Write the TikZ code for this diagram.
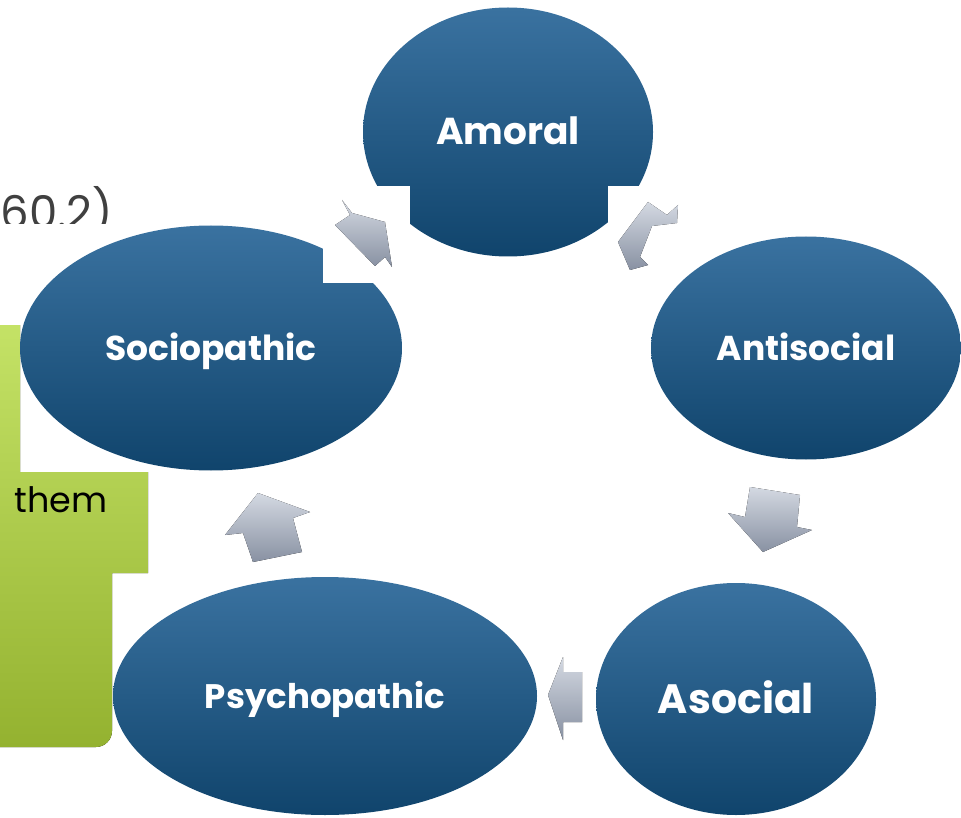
\documentclass[tikz,border=0pt]{standalone}
\usepackage{fontspec}
\setmainfont{Poppins}
\usetikzlibrary{shapes.geometric}
\definecolor{blueTop}{RGB}{58,114,160}
\definecolor{blueBottom}{RGB}{16,68,108}
\definecolor{greyTop}{RGB}{212,217,226}
\definecolor{greyBottom}{RGB}{136,145,162}
\definecolor{greenTop}{RGB}{196,226,102}
\definecolor{greenBottom}{RGB}{148,178,48}
\definecolor{noteGrey}{RGB}{64,64,64}

\begin{document}
\begin{tikzpicture}[x=1pt, y=-1pt,
		bubble/.style={ellipse, inner sep=0pt, top color=blueTop, bottom color=blueBottom,
			text=white, font=\fontsize{34.5}{40}\selectfont\bfseries, text height=25pt, text depth=0pt},
		cycleArrow/.style={top color=greyTop, bottom color=greyBottom},
		mask/.style={fill=white}]

	\def\W{961};
	\def\H{818};

	\newcommand{\blockArrow}[1]
	{
		\fill [cycleArrow] #1 -- cycle
	}

	\useasboundingbox (0,0) rectangle (\W,\H);

	\begin{scope}
		\fill [top color=greenTop, bottom color=greenBottom] (0,325) -- (20,325) -- (20,472) -- (148,472) -- (148,573) -- (112,573) [rounded corners=16pt] -- (112,747) [sharp corners] -- (0,747) -- cycle;
		\node [anchor=base west, font=\fontsize{35}{40}\selectfont] (them) at (11,512) {them};
	\end{scope}

	\begin{scope}
		\clip (0,0) rectangle (130,224);
		\node [anchor=base west, text=noteGrey, font=\fontsize{45}{48}\selectfont] (note) at (-3,229) {60.2)};
	\end{scope}

	\node [bubble, minimum width=290pt, minimum height=249pt, font=\fontsize{37.5}{40}\selectfont\bfseries] (amoral) at (508,132) {Amoral};
	\node [bubble, minimum width=382pt, minimum height=245pt] (socio) at (211,348) {Sociopathic};
	\node [bubble, minimum width=310pt, minimum height=223pt] (anti) at (806,348) {Antisocial};
	\node [bubble, minimum width=280pt, minimum height=232pt, font=\fontsize{41}{44}\selectfont\bfseries, text height=29pt] (asocial) at (736,699) {Asocial};
	\node [bubble, minimum width=424pt, minimum height=238pt, font=\fontsize{34}{40}\selectfont\bfseries] (psycho) at (325,696) {Psychopathic};

	\begin{scope}
		\fill [mask] (323,186) rectangle (410,283);
		\fill [mask] (608,186) rectangle (662,235);
	\end{scope}

	\blockArrow{(342,200) -- (352,213) -- (385,222) -- (392,267) -- (385,257) -- (375,266) -- (335,225) -- (350,215)};
	\blockArrow{(648,202) -- (667,215) -- (678,205) -- (677,223) -- (652,226) -- (640,257) -- (648,265) -- (630,270) -- (618,242)};
	\blockArrow{(750,487) -- (800,495) -- (797,527) -- (812,530) -- (763,552) -- (728,513) -- (745,517)};
	\blockArrow{(548,695) -- (563,657) -- (563,672) -- (582,672) -- (582,722) -- (563,722) -- (563,740)};
	\blockArrow{(258,493) -- (310,512) -- (293,518) -- (302,552) -- (253,562) -- (243,533) -- (225,535)};

\end{tikzpicture}
\end{document}
